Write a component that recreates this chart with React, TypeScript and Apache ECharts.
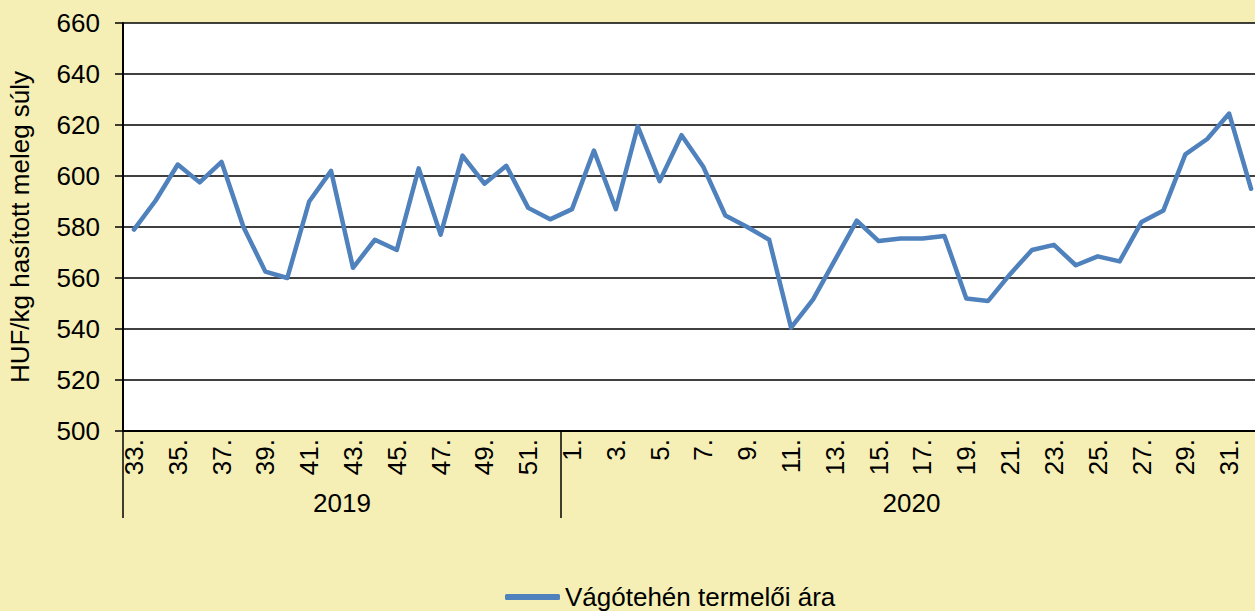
import React, { useEffect, useRef } from "react";
import * as echarts from "echarts";

const weeks2019 = ["33.", "34.", "35.", "36.", "37.", "38.", "39.", "40.", "41.", "42.", "43.", "44.", "45.", "46.", "47.", "48.", "49.", "50.", "51.", "52."];
const weeks2020 = ["1.", "2.", "3.", "4.", "5.", "6.", "7.", "8.", "9.", "10.", "11.", "12.", "13.", "14.", "15.", "16.", "17.", "18.", "19.", "20.", "21.", "22.", "23.", "24.", "25.", "26.", "27.", "28.", "29.", "30.", "31.", "32."];
const prices2019 = [579, 590.5, 604.5, 597.5, 605.5, 580, 562.5, 560, 590, 602, 564, 575, 571, 603, 577, 608, 597, 604, 587.5, 583];
const prices2020 = [587, 610, 587, 619.5, 598, 616, 603.5, 584.5, 580, 575, 540.5, 551.5, 567, 582.5, 574.5, 575.5, 575.5, 576.5, 552, 551, 561.5, 571, 573, 565, 568.5, 566.5, 582, 586.5, 608.5, 614.5, 624.5, 595];
const years = ["2019", "2020"];
const seriesName = "Vágótehén termelői ára";
const yAxisTitle = "HUF/kg hasított meleg súly";

const FONT = "'Liberation Sans', Arial, sans-serif";
const FS = 26;

export default function App() {
  const ref = useRef<HTMLDivElement>(null);
  useEffect(() => {
    if (!ref.current) return;
    const chart = echarts.init(ref.current, undefined, { renderer: "svg" });
    const categories = [...weeks2019, ...weeks2020];
    const values = [...prices2019, ...prices2020];
    const n = categories.length;
    const b1 = weeks2019.length;
    const yearCenters = [b1 / 2, b1 + weeks2020.length / 2];
    chart.setOption({
      animation: false,
      backgroundColor: "#F5EFB5",
      textStyle: { fontFamily: FONT, color: "#000" },
      grid: {
        left: 123,
        top: 23,
        right: -7,
        bottom: 180,
        containLabel: false,
        outerBoundsMode: "none",
        show: true,
        backgroundColor: "#ffffff",
        borderWidth: 0,
      },
      legend: {
        show: true,
        left: 505,
        top: 584,
        padding: 0,
        itemWidth: 55,
        itemHeight: 6,
        icon: "roundRect",
        textStyle: { fontFamily: FONT, fontSize: FS, color: "#000" },
        data: [seriesName],
      },
      xAxis: [
        {
          type: "category",
          data: categories,
          boundaryGap: true,
          position: "bottom",
          axisLine: { show: true, lineStyle: { color: "#000", width: 2 } },
          axisTick: { show: false },
          axisLabel: {
            interval: 1,
            rotate: 90,
            margin: 8,
            fontSize: FS,
            color: "#000",
            fontFamily: FONT,
          },
          splitLine: { show: false },
        },
        {
          type: "value",
          position: "bottom",
          min: 0,
          max: n,
          axisLine: { show: false },
          splitLine: { show: false },
          axisTick: {
            show: true,
            customValues: [0, b1, n],
            length: 87,
            inside: false,
            lineStyle: { color: "#000", width: 1.5 },
          },
          axisLabel: {
            show: true,
            customValues: yearCenters,
            formatter: (v: number) => (v === yearCenters[0] ? years[0] : years[1]),
            margin: 59,
            fontSize: FS,
            color: "#000",
            fontFamily: FONT,
          },
        },
      ],
      yAxis: {
        type: "value",
        min: 500,
        max: 660,
        interval: 20,
        name: yAxisTitle,
        nameLocation: "middle",
        nameGap: 90,
        nameTextStyle: { fontFamily: FONT, fontSize: FS, color: "#000" },
        axisLine: { show: true, lineStyle: { color: "#000", width: 2 } },
        axisTick: { show: true, inside: false, length: 8, lineStyle: { color: "#000", width: 1.5 } },
        axisLabel: { margin: 23, fontSize: FS, color: "#000", fontFamily: FONT },
        splitLine: { show: true, lineStyle: { color: "#000", width: 1.5 } },
      },
      series: [
        {
          name: seriesName,
          type: "line",
          data: values,
          xAxisIndex: 0,
          yAxisIndex: 0,
          symbol: "none",
          lineStyle: { color: "#4F81BD", width: 4.5, join: "round", cap: "round" },
          itemStyle: { color: "#4F81BD" },
        },
      ],
    });
    return () => chart.dispose();
  }, []);
  return (
    <div
      ref={ref}
      style={{ position: "fixed", left: 0, top: 0, width: 1255, height: 611 }}
    />
  );
}
